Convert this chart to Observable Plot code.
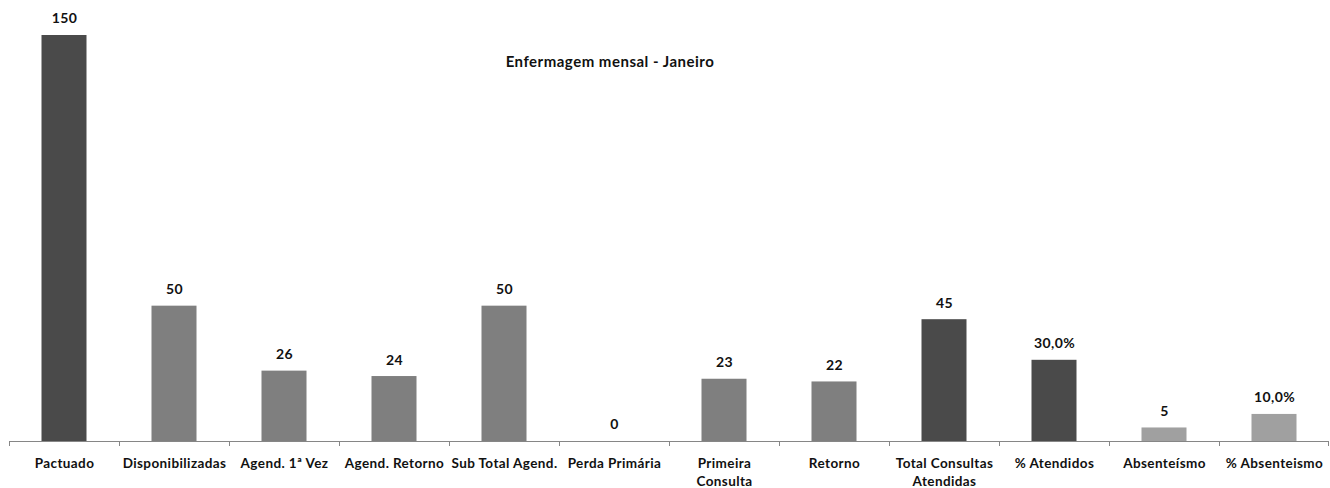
<!DOCTYPE html>
<html>
<head>
<meta charset="utf-8">
<script src="https://cdn.jsdelivr.net/npm/d3@7"></script>
<script src="https://cdn.jsdelivr.net/npm/@observablehq/plot@0.6"></script>
<style>
  html, body { margin: 0; padding: 0; background: #fff; }
  #wrap { position: relative; width: 1330px; height: 488px; font-family: Lato, "Open Sans", sans-serif; }
  #title { position: absolute; left: 0; width: 1220px; top: 51px; text-align: center; font-weight: bold; font-size: 15px; letter-spacing: 0.5px; line-height: 20px; color: #111; }
  svg text { letter-spacing: 0.4px; }
</style>
</head>
<body>
<div id="wrap"><div id="title">Enfermagem mensal - Janeiro</div></div>
<script>
const categories = ["Pactuado", "Disponibilizadas", "Agend. 1ª Vez", "Agend. Retorno", "Sub Total Agend.", "Perda Primária", "Primeira\nConsulta", "Retorno", "Total Consultas\nAtendidas", "% Atendidos", "Absenteísmo", "% Absenteismo"];
const values = [150, 50, 26, 24, 50, 0, 23, 22, 45, 30, 5, 10];
const valueLabels = ["150", "50", "26", "24", "50", "0", "23", "22", "45", "30,0%", "5", "10,0%"];
const groups = ["total", "parcial", "parcial", "parcial", "parcial", "parcial", "parcial", "parcial", "total", "total", "ausencia", "ausencia"];

const data = categories.map((c, i) => ({category: c, value: values[i], label: valueLabels[i], group: groups[i]}));

const width = 1330, height = 488, marginLeft = 9, marginRight = 1;
const step = (width - marginLeft - marginRight) / categories.length;

const chart = Plot.plot({
  width, height,
  marginTop: 35, marginBottom: 47, marginLeft, marginRight,
  style: {fontFamily: "Lato, 'Open Sans', sans-serif", background: "transparent"},
  x: {domain: categories, padding: 0, axis: null},
  y: {domain: [0, 150], axis: null},
  color: {domain: ["total", "parcial", "ausencia"], range: ["#4a4a4a", "#7f7f7f", "#a0a0a0"]},
  marks: [
    Plot.barY(data, {x: "category", y: "value", fill: "group", insetLeft: (step - 45) / 2, insetRight: (step - 45) / 2}),
    Plot.ruleY([0], {stroke: "#868686", strokeWidth: 1}),
    Plot.ruleX(categories, {x: d => d, y1: 0, y2: 0, dx: -step / 2, insetBottom: -5, stroke: "#868686"}),
    Plot.ruleX([categories[categories.length - 1]], {x: d => d, y1: 0, y2: 0, dx: step / 2 - 1, insetBottom: -5, stroke: "#868686"}),
    Plot.text(data, {x: "category", y: "value", text: "label", dy: -16.5, fontWeight: "bold", fontSize: 14, fill: "#111"}),
    Plot.text(data, {x: "category", text: "category", frameAnchor: "bottom", lineAnchor: "top", dy: 13, lineHeight: 1.38, fontWeight: "bold", fontSize: 13.5, fill: "#111"})
  ]
});
document.getElementById("wrap").appendChild(chart);
</script>
</body>
</html>
